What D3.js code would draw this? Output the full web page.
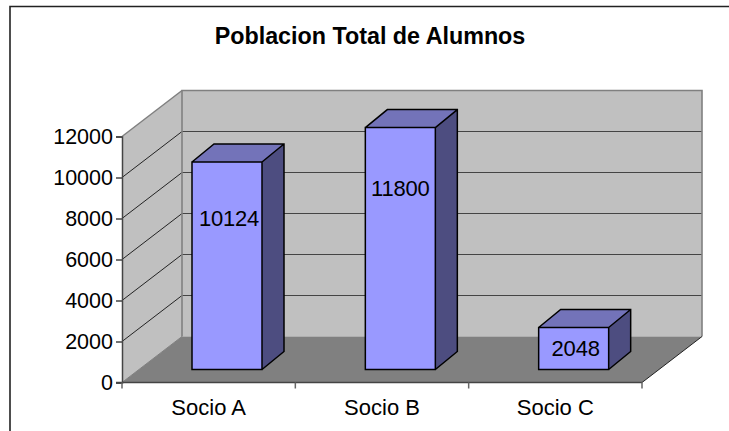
<!DOCTYPE html>
<html>
<head>
<meta charset="utf-8">
<script src="https://cdn.jsdelivr.net/npm/d3@7"></script>
<style>
  html, body { margin: 0; padding: 0; background: #fff; }
  svg { display: block; }
  text { font-family: "Liberation Sans", Arial, sans-serif; fill: #000; }
</style>
</head>
<body>
<div id="chart"></div>
<script>
const title = "Poblacion Total de Alumnos";
const categories = ["Socio A", "Socio B", "Socio C"];
const values = [10124, 11800, 2048];
const yTicks = [0, 2000, 4000, 6000, 8000, 10000, 12000];

const svg = d3.select("#chart")
  .append("svg")
  .attr("width", 729)
  .attr("height", 431);

// front plane of the 3D box, plus the offset to the back wall
const x = d3.scaleBand().domain(categories).range([122, 642]);
const y = d3.scaleLinear().domain([0, 12000]).range([382.5, 136.5]);
const depth = { dx: 60, dy: -46 };

const pts = a => a.map(p => p.join(",")).join(" ");

// chart frame (only the top and left edges are in the picture)
svg.append("path")
  .attr("d", "M10,431V6.5H729")
  .attr("fill", "none")
  .attr("stroke", "#222")
  .attr("stroke-width", 1.6);

svg.append("text")
  .attr("x", 370)
  .attr("y", 44)
  .attr("text-anchor", "middle")
  .attr("font-size", 23.3)
  .attr("font-weight", "bold")
  .text(title);

const x0 = x.range()[0], x1 = x.range()[1];
const yBase = y(0), yTop = y(12000);

// left wall
svg.append("polygon")
  .attr("points", pts([[x0, yBase], [x0 + depth.dx, yBase + depth.dy], [x0 + depth.dx, yTop + depth.dy], [x0, yTop]]))
  .attr("fill", "#c0c0c0");

// back wall
svg.append("rect")
  .attr("x", x0 + depth.dx)
  .attr("y", yTop + depth.dy)
  .attr("width", x1 - x0)
  .attr("height", yBase - yTop)
  .attr("fill", "#c0c0c0");

// floor
svg.append("polygon")
  .attr("points", pts([[x0, yBase], [x1, yBase], [x1 + depth.dx, yBase + depth.dy], [x0 + depth.dx, yBase + depth.dy]]))
  .attr("fill", "#808080");

// gridlines on both walls
const grid = yTicks.slice(1, -1).concat(12000);
svg.selectAll("line.wallgrid")
  .data(grid)
  .enter()
  .append("line")
  .attr("class", "wallgrid")
  .attr("x1", x0)
  .attr("y1", d => y(d))
  .attr("x2", x0 + depth.dx)
  .attr("y2", d => y(d) + depth.dy)
  .attr("stroke", d => d === 12000 ? "#808080" : "#111")
  .attr("stroke-width", d => d === 12000 ? 1.5 : 0.9);

svg.selectAll("line.backgrid")
  .data(yTicks.slice(1, -1))
  .enter()
  .append("line")
  .attr("class", "backgrid")
  .attr("x1", x0 + depth.dx)
  .attr("y1", d => y(d) + depth.dy)
  .attr("x2", x1 + depth.dx)
  .attr("y2", d => y(d) + depth.dy)
  .attr("stroke", "#444")
  .attr("stroke-width", 1);

// wall edges
svg.append("path")
  .attr("d", `M${x0 + depth.dx},${yBase + depth.dy}V${yTop + depth.dy}H${x1 + depth.dx}V${yBase + depth.dy}`)
  .attr("fill", "none")
  .attr("stroke", "#808080")
  .attr("stroke-width", 1.6);

// floor edges
svg.append("line")
  .attr("x1", x0)
  .attr("y1", yBase)
  .attr("x2", x0 + depth.dx)
  .attr("y2", yBase + depth.dy)
  .attr("stroke", "#808080")
  .attr("stroke-width", 1);

svg.append("line")
  .attr("x1", x1)
  .attr("y1", yBase)
  .attr("x2", x1 + depth.dx)
  .attr("y2", yBase + depth.dy)
  .attr("stroke", "#222")
  .attr("stroke-width", 1);

// bars
const barW = 70;
const barLeft = 70;   // from band start to front face
const lift = 13;      // front face sits behind the axis plane
const barDx = 22, barDy = -18;

const bars = svg.selectAll("g.bar")
  .data(values)
  .enter()
  .append("g")
  .attr("class", "bar");

const bx = (d, i) => x(categories[i]) + barLeft;
const byBase = yBase - lift;
const byTop = d => byBase - (yBase - y(d));

bars.append("polygon")
  .attr("points", (d, i) => pts([
    [bx(d, i), byTop(d)],
    [bx(d, i) + barW, byTop(d)],
    [bx(d, i) + barW + barDx, byTop(d) + barDy],
    [bx(d, i) + barDx, byTop(d) + barDy]
  ]))
  .attr("fill", "#7373b9");

bars.append("polygon")
  .attr("points", (d, i) => pts([
    [bx(d, i) + barW, byTop(d)],
    [bx(d, i) + barW + barDx, byTop(d) + barDy],
    [bx(d, i) + barW + barDx, byBase + barDy],
    [bx(d, i) + barW, byBase]
  ]))
  .attr("fill", "#4d4d80");

bars.append("rect")
  .attr("x", bx)
  .attr("y", byTop)
  .attr("width", barW)
  .attr("height", d => byBase - byTop(d))
  .attr("fill", "#9999ff");

// outlines on top of the fills
bars.append("path")
  .attr("d", (d, i) => {
    const l = bx(d, i), r = l + barW, t = byTop(d);
    return `M${l},${byBase}V${t}H${r}V${byBase}Z` +
      `M${l},${t}L${l + barDx},${t + barDy}H${r + barDx}V${byBase + barDy}L${r},${byBase}` +
      `M${r},${t}L${r + barDx},${t + barDy}`;
  })
  .attr("fill", "none")
  .attr("stroke", "#000")
  .attr("stroke-width", 1.5);

bars.append("text")
  .attr("x", (d, i) => bx(d, i) + barW / 2 + (i === 1 ? 0 : 2))
  .attr("y", d => (byTop(d) + byBase) / 2 + (d === 2048 ? 7 : d === 11800 ? -53 : -40))
  .attr("text-anchor", "middle")
  .attr("font-size", 22)
  .attr("letter-spacing", -0.2)
  .text(d => d);

// axes
svg.append("g")
  .attr("transform", `translate(${x0},0)`)
  .call(d3.axisLeft(y).tickValues(yTicks).tickFormat(d => d).tickSize(6).tickPadding(3))
  .call(g => g.selectAll("text").attr("font-size", 21.5).attr("font-family", "Liberation Sans").attr("fill", "#000"))
  .call(g => g.selectAll("line,path").attr("stroke", "#444").attr("stroke-width", 1.5));

const xEdges = [...categories.map(c => x(c)), x1];
const xAxisY = yBase;
svg.append("line")
  .attr("x1", x0 - 6)
  .attr("x2", x1)
  .attr("y1", xAxisY)
  .attr("y2", xAxisY)
  .attr("stroke", "#444")
  .attr("stroke-width", 1.5);

svg.selectAll("line.xtick")
  .data(xEdges)
  .enter()
  .append("line")
  .attr("class", "xtick")
  .attr("x1", d => d)
  .attr("x2", d => d)
  .attr("y1", xAxisY)
  .attr("y2", xAxisY + 6)
  .attr("stroke", "#666")
  .attr("stroke-width", 1.5);

svg.selectAll("text.xlabel")
  .data(categories)
  .enter()
  .append("text")
  .attr("class", "xlabel")
  .attr("x", d => x(d) + x.bandwidth() / 2)
  .attr("y", 415)
  .attr("text-anchor", "middle")
  .attr("font-size", 22)
  .text(d => d);
</script>
</body>
</html>
